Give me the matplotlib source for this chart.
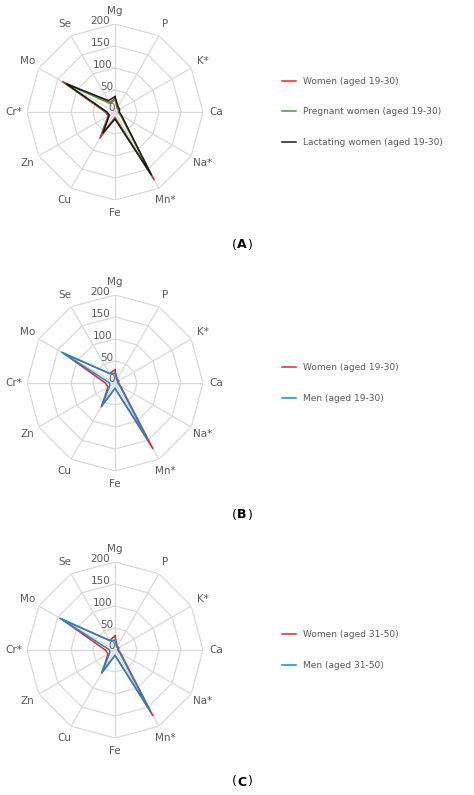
import numpy as np
import matplotlib.pyplot as plt

nutrients = ['Mg', 'P', 'K*', 'Ca', 'Na*', 'Mn*', 'Fe', 'Cu', 'Zn', 'Cr*', 'Mo', 'Se']

# panel A
women_19_30 = [30, 10, 10, 8, 15, 178, 12, 68, 18, 22, 138, 25]
pregnant_19_30 = [28, 12, 10, 8, 15, 168, 14, 58, 15, 20, 130, 22]
lactating_19_30 = [35, 14, 12, 10, 18, 165, 16, 55, 15, 18, 128, 30]
# panel B
women_b = [30, 10, 10, 8, 15, 172, 12, 62, 18, 22, 135, 25]
men_19_30 = [22, 8, 8, 6, 12, 150, 12, 60, 14, 12, 140, 25]
# panel C
women_31_50 = [32, 10, 10, 8, 15, 172, 12, 60, 18, 22, 140, 25]
men_31_50 = [22, 8, 8, 6, 12, 160, 12, 60, 14, 12, 145, 25]

panels = [
    ('(A)', [(women_19_30, '#e0282d', 'Women (aged 19-30)'),
             (pregnant_19_30, '#4a9a3a', 'Pregnant women (aged 19-30)'),
             (lactating_19_30, '#1a1a1a', 'Lactating women (aged 19-30)')]),
    ('(B)', [(women_b, '#e0282d', 'Women (aged 19-30)'),
             (men_19_30, '#1f86c8', 'Men (aged 19-30)')]),
    ('(C)', [(women_31_50, '#e0282d', 'Women (aged 31-50)'),
             (men_31_50, '#1f86c8', 'Men (aged 31-50)')]),
]

n = len(nutrients)
angles = np.linspace(0, 2 * np.pi, n, endpoint=False)
closed = np.append(angles, angles[0])

fig = plt.figure(figsize=(4.74, 7.95), dpi=100)
W, H = 474, 795
rad = 88
centers = [112, 383, 650]
tag_y = [245, 515, 782]
for (tag, series), cy, ty in zip(panels, centers, tag_y):
    ax = fig.add_axes([(115 - rad) / W, 1 - (cy + rad) / H, 2 * rad / W, 2 * rad / H],
                      projection='polar')
    ax.set_theta_zero_location('N')
    ax.set_theta_direction(-1)
    ax.set_ylim(0, 200)
    ax.grid(False)
    ax.spines['polar'].set_visible(False)
    ax.set_yticks([])
    ax.set_xticks(angles)
    ax.set_xticklabels(nutrients, color='#595959', fontsize=7.5)
    ax.tick_params(axis='x', pad=-1)
    for r in [50, 100, 150, 200]:
        ax.plot(closed, [r] * (n + 1), color='#d9d9d9', lw=0.9, zorder=0)
    for a in angles:
        ax.plot([a, a], [0, 200], color='#d9d9d9', lw=0.9, zorder=0)
    for r in [0, 50, 100, 150, 200]:
        ax.text(-0.06, r + 8, str(r), color='#595959', fontsize=7.5,
                ha='right', va='center')
    for vals, col, lab in series:
        ax.plot(closed, vals + vals[:1], color=col, lw=1.1, label=lab)
    ax.legend(loc='center left', bbox_to_anchor=(1.4, 0.5), frameon=False,
              fontsize=6.5, labelspacing=2.4, handlelength=1.6,
              labelcolor='#595959')
    yf = 1 - ty / H
    fig.text(0.5, yf, tag[0], fontsize=9, ha='right', va='center')
    fig.text(0.5, yf, tag[1], fontsize=9, fontweight='bold', ha='left', va='center')
    fig.text(0.524, yf, tag[2], fontsize=9, ha='left', va='center')

fig.savefig('out.png', dpi=100)
